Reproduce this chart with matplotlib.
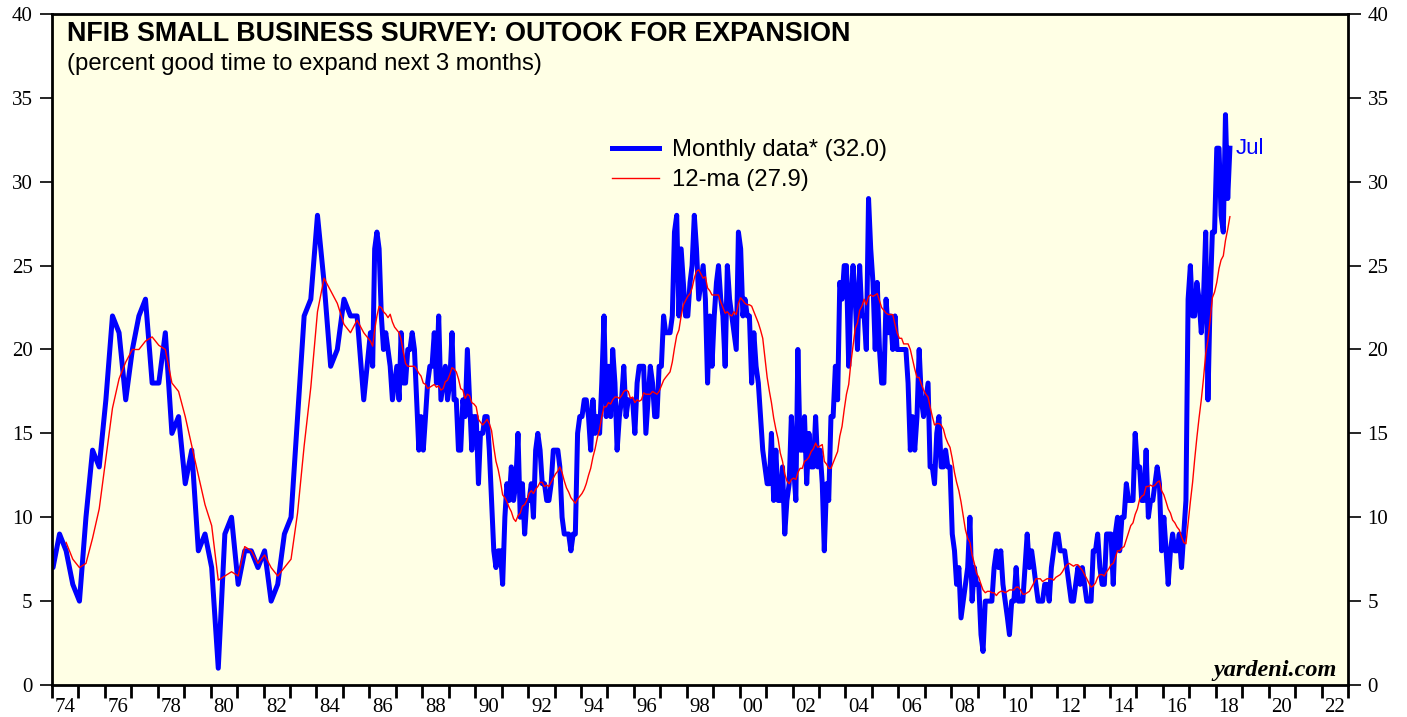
import pandas as pd
import matplotlib
matplotlib.use('Agg')
import matplotlib.pyplot as plt
import matplotlib.dates as mdates

# NFIB: percent saying good time to expand. Quarterly survey (Jan/Apr/Jul/Oct) Oct 1973 - Oct 1985
quarterly = [10,
             7, 9, 8, 6,      # 1974
             5, 10, 14, 13,   # 1975
             17, 22, 21, 17,  # 1976
             20, 22, 23, 18,  # 1977
             18, 21, 15, 16,  # 1978
             12, 14, 8, 9,    # 1979
             7, 1, 9, 10,     # 1980
             6, 8, 8, 7,      # 1981
             8, 5, 6, 9,      # 1982
             10, 16, 22, 23,  # 1983
             28, 24, 19, 20,  # 1984
             23, 22, 22, 17]  # 1985

# monthly survey from Jan 1986
monthly_1986_1995 = [21, 19, 26, 27, 26, 22, 20, 21, 20, 19, 17, 18,   # 1986
                     19, 17, 21, 18, 18, 20, 20, 21, 20, 17, 14, 16,   # 1987
                     14, 16, 18, 19, 19, 21, 18, 22, 17, 18, 19, 17,   # 1988
                     18, 21, 17, 17, 14, 14, 17, 16, 20, 17, 14, 16,   # 1989
                     16, 12, 15, 15, 16, 16, 14, 11, 8, 7, 8, 8,       # 1990
                     6, 10, 12, 11, 13, 11, 12, 15, 10, 12, 9, 11,     # 1991
                     11, 12, 10, 14, 15, 14, 12, 12, 11, 11, 12, 14,   # 1992
                     14, 14, 13, 10, 9, 9, 9, 8, 9, 9, 15, 16,         # 1993
                     16, 17, 17, 16, 14, 17, 15, 16, 15, 18, 22, 16,   # 1994
                     19, 16, 20, 18, 14, 16, 17, 19, 16, 17, 17, 17]   # 1995

monthly_1996_2005 = [15, 18, 19, 19, 19, 15, 17, 19, 18, 16, 16, 19,   # 1996
                     19, 22, 21, 21, 21, 22, 27, 28, 22, 26, 24, 22,   # 1997
                     22, 24, 25, 28, 26, 23, 24, 25, 23, 18, 22, 19,   # 1998
                     22, 24, 25, 23, 22, 19, 25, 23, 22, 21, 20, 27,   # 1999
                     26, 22, 23, 22, 22, 18, 21, 19, 18, 16, 14, 13,   # 2000
                     12, 12, 15, 11, 14, 11, 11, 13, 9, 11, 12, 16,    # 2001
                     13, 11, 20, 14, 14, 16, 12, 15, 13, 13, 16, 13,   # 2002
                     14, 12, 8, 12, 11, 16, 16, 19, 17, 24, 23, 25,    # 2003
                     25, 19, 23, 25, 23, 20, 25, 22, 22, 20, 29, 26,   # 2004
                     24, 20, 24, 20, 18, 18, 23, 21, 22, 20, 22, 20]   # 2005

monthly_2006_2018 = [20, 20, 20, 20, 18, 14, 16, 14, 16, 20, 17, 16,   # 2006
                     17, 18, 13, 13, 12, 15, 16, 13, 13, 14, 13, 13,   # 2007
                     9, 8, 6, 7, 4, 5, 6, 7, 10, 5, 7, 6,              # 2008
                     6, 3, 2, 5, 5, 5, 5, 7, 8, 7, 8, 6,               # 2009
                     5, 4, 3, 5, 5, 7, 5, 5, 5, 7, 9, 7,               # 2010
                     8, 7, 6, 5, 5, 5, 6, 6, 5, 7, 8, 9,               # 2011
                     9, 8, 8, 8, 7, 6, 5, 5, 6, 7, 6, 7,               # 2012
                     6, 5, 5, 5, 8, 8, 9, 7, 6, 6, 9, 9,               # 2013
                     9, 6, 9, 10, 8, 10, 10, 12, 11, 11, 11, 15,       # 2014
                     13, 13, 11, 11, 14, 10, 11, 11, 12, 13, 12, 8,    # 2015
                     10, 8, 6, 8, 9, 8, 8, 9, 7, 9, 11, 23,            # 2016
                     25, 22, 22, 24, 23, 21, 23, 27, 17, 23, 27, 27,   # 2017
                     32, 32, 28, 27, 34, 29, 32]                       # 2018 (thru Jul)

year_labels = ['74', '76', '78', '80', '82', '84', '86', '88', '90', '92', '94', '96',
               '98', '00', '02', '04', '06', '08', '10', '12', '14', '16', '18', '20', '22']
y_ticks = [0, 5, 10, 15, 20, 25, 30, 35, 40]

# build one series, points at mid-month
q_dates = pd.date_range('1973-10-01', periods=len(quarterly), freq='QS-OCT') + pd.Timedelta(days=14)
m_values = monthly_1986_1995 + monthly_1996_2005 + monthly_2006_2018
m_dates = pd.date_range('1986-01-01', periods=len(m_values), freq='MS') + pd.Timedelta(days=14)
s = pd.concat([pd.Series(quarterly, index=q_dates),
               pd.Series(m_values, index=m_dates)]).astype(float)

# 12-month moving average
ma = s.rolling('365D').mean()
ma = ma[ma.index >= pd.Timestamp('1974-07-01')]

W, H = 1407, 717
fig = plt.figure(figsize=(W / 100, H / 100), dpi=100)
ax = fig.add_axes([52 / W, 32 / H, 1296 / W, 671 / H])
ax.set_facecolor('#ffffe5')

ax.plot(s.index, s.values, color='#0000ff', linewidth=3.6,
        label=f'Monthly data* ({s.iloc[-1]:.1f})')
ax.plot(ma.index, ma.values, color='#ff0000', linewidth=1.0,
        label=f'12-ma ({ma.iloc[-1]:.1f})')

ax.annotate('Jul', xy=(s.index[-1], s.iloc[-1]), xytext=(4, 0), textcoords='offset points',
            color='#0000ff', fontsize=16, family='Liberation Sans', va='center', ha='left')

# axes limits and ticks
ax.set_xlim(pd.Timestamp('1974-01-01'), pd.Timestamp('2023-01-01'))
ax.set_ylim(0, 40)
ax.xaxis.set_major_locator(mdates.YearLocator(1))
ax.xaxis.set_major_formatter(plt.NullFormatter())
label_pos = [pd.Timestamp(f'{1974 + 2 * i}-07-02') for i in range(len(year_labels))]
ax.set_xticks(label_pos, minor=True)
ax.set_xticklabels(year_labels, minor=True, fontsize=15, family='Liberation Serif')
ax.tick_params(axis='x', which='major', length=9, width=2, direction='out')
ax.tick_params(axis='x', which='minor', length=0, pad=9.5)

ax.set_yticks(y_ticks)
ax.set_yticklabels([str(v) for v in y_ticks], fontsize=15, family='Liberation Serif')
ax.tick_params(axis='y', length=9, width=1.2, direction='out', pad=5,
               left=True, right=True, labelleft=True, labelright=True)

for side in ['left', 'right', 'bottom', 'top']:
    ax.spines[side].set_linewidth(2)

# titles
fig.text(67 / W, 1 - 34 / H, 'NFIB SMALL BUSINESS SURVEY: OUTOOK FOR EXPANSION',
         fontsize=19.4, fontweight='bold', family='Liberation Sans', va='center', ha='left')
fig.text(67 / W, 1 - 64 / H, '(percent good time to expand next 3 months)',
         fontsize=17.2, family='Liberation Sans', va='center', ha='left')

ax.legend(loc='upper left', bbox_to_anchor=(612 / W, 1 - 139 / H), bbox_transform=fig.transFigure,
          frameon=False, borderpad=0, borderaxespad=0, handlelength=1.95, handletextpad=0.55,
          labelspacing=0.33, prop={'family': 'Liberation Sans', 'size': 17.2})

ax.text(0.991, 0.013, 'yardeni.com', transform=ax.transAxes, ha='right', va='baseline',
        fontsize=17.5, fontweight='bold', style='italic', family='Liberation Serif')

plt.savefig('out.png', dpi=100)
